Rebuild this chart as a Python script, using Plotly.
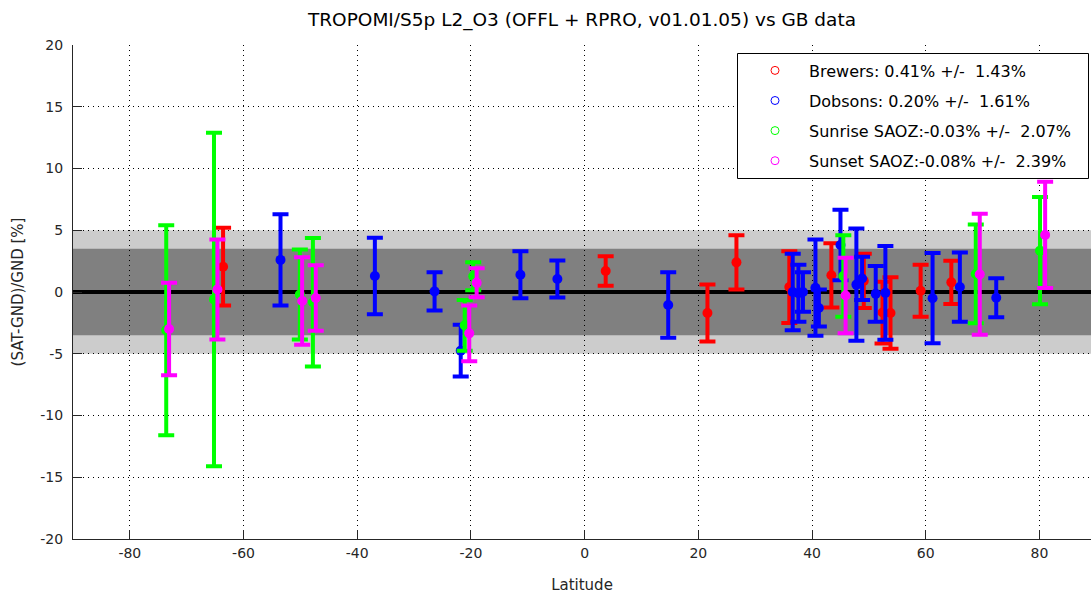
import plotly.graph_objects as go

# ---------------- data ----------------
brewer_lat = [-63.6, 3.7, 21.6, 26.7, 36.0, 43.4, 49.1, 52.4, 53.8, 59.1, 64.5]
brewer_dev = [2.05, 1.7, -1.7, 2.4, 0.4, 1.35, 0.9, -1.66, -1.7, 0.1, 0.78]
brewer_err = [3.15, 1.2, 2.3, 2.2, 2.9, 2.6, 2.2, 2.5, 2.9, 2.1, 1.75]

dobson_lat = [-53.5, -36.9, -26.4, -21.8, -11.3, -4.8, 14.7, 36.6, 37.6, 38.4,
              40.6, 41.2, 45.0, 47.8, 48.8, 51.2, 52.9, 61.2, 66.0, 72.4]
dobson_dev = [2.6, 1.3, 0.05, -4.75, 1.4, 1.05, -1.05, 0.0, -0.1, 0.0,
              0.35, -1.3, 3.8, 0.6, 1.1, -0.15, -0.07, -0.5, 0.4, -0.47]
dobson_err = [3.7, 3.1, 1.55, 2.1, 1.9, 1.5, 2.65, 3.1, 2.3, 1.6,
              3.9, 1.5, 2.85, 4.55, 1.75, 2.25, 3.8, 3.65, 2.8, 1.58]

sunrise_lat = [-73.6, -65.2, -50.1, -47.8, -21.1, -19.6, 45.5, 68.8, 80.1]
sunrise_dev = [-3.1, -0.6, -0.2, -0.83, -2.7, 1.28, 1.3, 1.46, 3.35]
sunrise_err = [8.5, 13.5, 3.65, 5.2, 2.05, 1.13, 3.3, 4.0, 4.35]

sunset_lat = [-73.1, -64.6, -49.7, -47.3, -20.3, -19.0, 45.9, 69.5, 81.0]
sunset_dev = [-3.0, 0.2, -0.73, -0.49, -3.35, 0.75, -0.28, 1.43, 4.62]
sunset_err = [3.75, 4.05, 3.55, 2.65, 2.25, 1.17, 3.05, 4.9, 4.3]

legend_labels = [
    "Brewers: 0.41% +/-\u00a0 1.43%",
    "Dobsons: 0.20% +/-\u00a0 1.61%",
    "Sunrise SAOZ:-0.03% +/-\u00a0 2.07%",
    "Sunset SAOZ:-0.08% +/-\u00a0 2.39%",
]
series_colors = ["#ff0000", "#0000ff", "#00ff00", "#ff00ff"]

band_outer = 5.0
band_inner = 3.5

x_ticks = [-80, -60, -40, -20, 0, 20, 40, 60, 80]
y_ticks = [-20, -15, -10, -5, 0, 5, 10, 15, 20]

title_text = "TROPOMI/S5p L2_O3 (OFFL + RPRO, v01.01.05) vs GB data"
x_title = "Latitude"
y_title = "(SAT-GND)/GND [%]"

# ---------------- figure ----------------
FONT = "DejaVu Sans, Verdana, sans-serif"
fig = go.Figure()

series = [
    (brewer_lat, brewer_dev, brewer_err),
    (dobson_lat, dobson_dev, dobson_err),
    (sunrise_lat, sunrise_dev, sunrise_err),
    (sunset_lat, sunset_dev, sunset_err),
]

for i, ((lat, dev, err), col) in enumerate(zip(series, series_colors)):
    fig.add_trace(go.Scatter(
        x=lat, y=dev, mode="markers",
        marker=dict(symbol="circle", size=10, color=col, line=dict(width=0)),
        error_y=dict(type="data", array=err, visible=True, color=col,
                     thickness=4, width=8),
        showlegend=False, hoverinfo="skip",
    ))

for i, (lab, col) in enumerate(zip(legend_labels, series_colors)):
    fig.add_trace(go.Scatter(
        x=[None], y=[None], mode="markers", name=lab,
        marker=dict(symbol="circle-open", size=8, color=col, line=dict(width=1, color=col)),
        legendgroup=f"g{i}", showlegend=True,
    ))

# reference bands and zero line
fig.add_shape(type="rect", xref="paper", x0=0, x1=1, y0=-band_outer, y1=band_outer,
              fillcolor="#cccccc", line=dict(width=0), layer="between")
fig.add_shape(type="rect", xref="paper", x0=0, x1=1, y0=-band_inner, y1=band_inner,
              fillcolor="#808080", line=dict(width=0), layer="between")
fig.add_shape(type="line", xref="paper", x0=0, x1=1, y0=0, y1=0,
              line=dict(color="black", width=4), layer="between")

# legend box
W, H = 1091, 594
ML, MR, MT, MB = 73, 0, 45, 55
pw, ph = W - ML - MR, H - MT - MB

def px2paper_x(px):
    return (px - ML) / pw

def py2paper_y(py):
    return (H - MB - py) / ph

fig.add_shape(type="rect", xref="paper", yref="paper",
              x0=px2paper_x(737.5), x1=px2paper_x(1088.5),
              y0=py2paper_y(178.5), y1=py2paper_y(53.5),
              fillcolor="white", line=dict(color="black", width=1), layer="above")

fig.update_layout(
    width=W, height=H,
    margin=dict(l=ML, r=MR, t=MT, b=MB, autoexpand=False),
    paper_bgcolor="white", plot_bgcolor="white",
    font=dict(family=FONT, size=14, color="#262626"),
    title=dict(text=title_text, x=0.5, xref="paper", xanchor="center",
               y=1 - 20 / H, yanchor="middle",
               font=dict(family=FONT, size=18.5, color="black")),
    showlegend=True,
    legend=dict(
        x=px2paper_x(741), y=py2paper_y(53.5), xanchor="left", yanchor="top",
        bgcolor="rgba(0,0,0,0)", borderwidth=0,
        font=dict(family=FONT, size=16, color="black"),
        itemwidth=58, tracegroupgap=6.3, traceorder="grouped",
    ),
    xaxis=dict(
        range=[-90, -90 + pw / 5.685], tickvals=x_ticks, ticktext=[str(v) for v in x_ticks],
        showgrid=True, gridcolor="black", griddash="1px,4px", gridwidth=1,
        zeroline=False, showline=True, linecolor="#262626", linewidth=1,
        ticks="inside", ticklen=9, tickcolor="#262626", tickwidth=1,
        ticklabelstandoff=1,
        title=dict(text=x_title, standoff=19, font=dict(family=FONT, size=15, color="#262626")),
        automargin=False,
    ),
    yaxis=dict(
        range=[-20, 20], tickvals=y_ticks, ticktext=[str(v) for v in y_ticks],
        showgrid=True, gridcolor="black", griddash="1px,4px", gridwidth=1,
        zeroline=False, showline=True, linecolor="#262626", linewidth=1,
        ticks="inside", ticklen=9, tickcolor="#262626", tickwidth=1,
        ticklabelstandoff=6,
        title=dict(text=y_title, standoff=13, font=dict(family=FONT, size=15, color="#262626")),
        automargin=False,
    ),
)

fig.write_html("out.html", config={"displayModeBar": False},
               post_script="document.body.style.margin='0';document.body.style.overflow='hidden';")
